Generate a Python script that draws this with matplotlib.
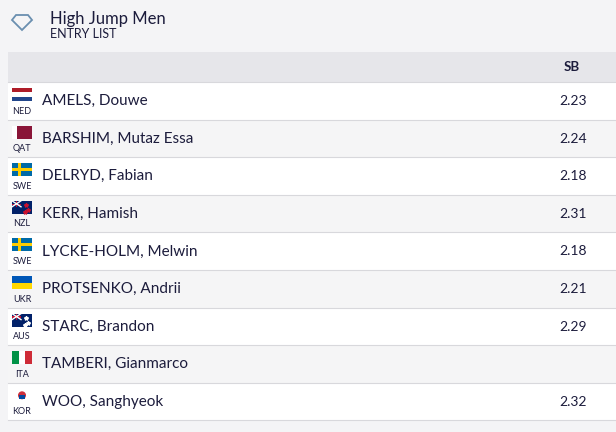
import matplotlib.pyplot as plt
from matplotlib.patches import Rectangle, Polygon

names = ["AMELS, Douwe", "BARSHIM, Mutaz Essa", "DELRYD, Fabian", "KERR, Hamish",
         "LYCKE-HOLM, Melwin", "PROTSENKO, Andrii", "STARC, Brandon",
         "TAMBERI, Gianmarco", "WOO, Sanghyeok"]
countries = ["NED", "QAT", "SWE", "NZL", "SWE", "UKR", "AUS", "ITA", "KOR"]
sb = ["2.23", "2.24", "2.18", "2.31", "2.18", "2.21", "2.29", "", "2.32"]

plt.rcParams['font.family'] = ['Lato', 'DejaVu Sans']
TXT = "#1c1c3c"

fig = plt.figure(figsize=(6.16, 4.32), dpi=100)
fig.patch.set_facecolor("#f4f4f6")
ax = fig.add_axes([0, 0, 1, 1])
ax.set_xlim(0, 616)
ax.set_ylim(432, 0)
ax.axis("off")

# logo
ax.add_patch(Polygon([[12, 20], [16, 15], [28, 15], [32, 20], [22, 30]], closed=True,
                     fill=False, ec="#6a8fb0", lw=1.3))
ax.text(50, 19, "High Jump Men", fontsize=12, color=TXT, va="center")
ax.text(50, 34, "ENTRY LIST", fontsize=9, color=TXT, va="center")

# header
ax.add_patch(Rectangle((8, 52), 608, 30, color="#e6e6ea", lw=0))
ax.text(572, 67, "SB", fontsize=9.5, color=TXT, ha="center", va="center", weight="bold")


def flag(code, x, y):
    w, h = 20, 13
    if code == "NED":
        for i, c in enumerate(["#ae1c28", "#ffffff", "#21468b"]):
            ax.add_patch(Rectangle((x, y + i * h / 3), w, h / 3, color=c, lw=0))
    elif code == "UKR":
        ax.add_patch(Rectangle((x, y), w, h / 2, color="#0057b7", lw=0))
        ax.add_patch(Rectangle((x, y + h / 2), w, h / 2, color="#ffd700", lw=0))
    elif code == "QAT":
        ax.add_patch(Rectangle((x, y), w, h, color="#8a1538", lw=0))
        ax.add_patch(Rectangle((x, y), 5, h, color="#ffffff", lw=0))
    elif code == "SWE":
        ax.add_patch(Rectangle((x, y), w, h, color="#006aa7", lw=0))
        ax.add_patch(Rectangle((x + 6, y), 3, h, color="#fecc00", lw=0))
        ax.add_patch(Rectangle((x, y + 5), w, 3, color="#fecc00", lw=0))
    elif code in ("NZL", "AUS"):
        ax.add_patch(Rectangle((x, y), w, h, color="#012169", lw=0))
        ax.plot([x, x + 9], [y, y + 6], color="#ffffff", lw=1)
        ax.plot([x, x + 9], [y + 6, y], color="#ffffff", lw=1)
        ax.add_patch(Rectangle((x + 4, y), 1.2, 6.5, color="#c8102e", lw=0))
        ax.add_patch(Rectangle((x, y + 2.7), 9, 1.2, color="#c8102e", lw=0))
        sc = "#c8102e" if code == "NZL" else "#ffffff"
        ax.plot([x + 14, x + 16, x + 13], [y + 4, y + 9, y + 11], "*", color=sc, ms=3)
    elif code == "ITA":
        for i, c in enumerate(["#009246", "#ffffff", "#ce2b37"]):
            ax.add_patch(Rectangle((x + i * w / 3, y), w / 3, h, color=c, lw=0))
    elif code == "KOR":
        ax.add_patch(Rectangle((x, y), w, h, color="#ffffff", lw=0))
        ax.add_patch(plt.Circle((x + w / 2, y + h / 2), 3.3, color="#cd2e3a"))
        ax.add_patch(Rectangle((x + w / 2 - 3.3, y + h / 2), 6.6, 3.3, color="#0047a0", lw=0))


row_h = 37.6
top = 82
for i, (n, c, s) in enumerate(zip(names, countries, sb)):
    y0 = top + i * row_h
    ax.add_patch(Rectangle((8, y0), 608, row_h, color="#ffffff" if i % 2 == 0 else "#f5f5f6", lw=0))
    ax.plot([8, 616], [y0, y0], color="#d8d8dc", lw=0.8)
    flag(c, 12, y0 + 6)
    ax.text(22, y0 + 29, c, fontsize=6.5, color=TXT, ha="center", va="center")
    ax.text(42, y0 + 19, n, fontsize=11, color=TXT, va="center")
    ax.text(587, y0 + 19, s, fontsize=10, color=TXT, ha="right", va="center")
ax.plot([8, 616], [top + 9 * row_h] * 2, color="#d8d8dc", lw=0.8)

fig.savefig("out.png", dpi=100, facecolor=fig.get_facecolor())
